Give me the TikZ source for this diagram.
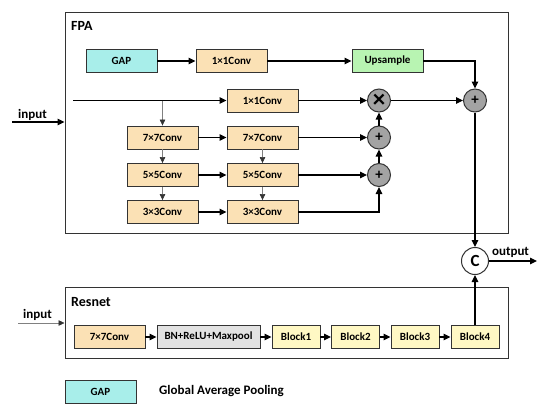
\documentclass[tikz,border=0pt]{standalone}
\usepackage{fontspec}
\setmainfont{Carlito}
\usetikzlibrary{arrows.meta,calc}
\definecolor{convc}{HTML}{FBE1B5}
\definecolor{gapc}{HTML}{A8EEEA}
\definecolor{upc}{HTML}{B8F4B2}
\definecolor{bnc}{HTML}{E2E2E2}
\definecolor{blkc}{HTML}{FFF8C4}
\definecolor{circc}{HTML}{A3A3A3}
\definecolor{edgec}{HTML}{333333}
\tikzset{
  every node/.style={font=\bfseries\fontsize{11}{12}\selectfont, inner sep=0pt},
  box/.style={draw=edgec, line width=0.9pt, rectangle, minimum width=71pt, minimum height=23pt},
  convbox/.style={box, fill=convc},
  blkbox/.style={box, fill=blkc, minimum width=48pt},
  opc/.style={draw=edgec, line width=1pt, circle, fill=circc, minimum size=23pt},
  frame/.style={draw=edgec, line width=1pt},
  arr/.style={line width=1.1pt, -{Triangle[length=7pt,width=6.5pt]}},
  garr/.style={gray, line width=0.6pt, -{Triangle[length=6pt,width=5.5pt,color=edgec]}},
  lbl/.style={font=\bfseries\fontsize{13}{15}\selectfont},
  ttl/.style={font=\bfseries\fontsize{14}{16}\selectfont, anchor=west}
}
\begin{document}
\begin{tikzpicture}[x=1pt,y=-1pt]
\useasboundingbox (0,0) rectangle (550,413);
% frames
\node[frame, minimum width=443pt, minimum height=221pt] (fpa) at (286.5,122.5) {};
\node[ttl] (fpat) at (71,26) {FPA};
\node[frame, minimum width=443pt, minimum height=71pt] (res) at (286.5,322.5) {};
\node[ttl] (rest) at (71,302) {Resnet};
% FPA top row
\node[box, fill=gapc] (gap) at (121.5,61) {GAP};
\node[convbox] (c1a) at (231.5,61) {1×1Conv};
\node[box, fill=upc] (up) at (387.5,61) {Upsample};
% second row
\node[convbox] (c1b) at (262.5,100.5) {1×1Conv};
\node[opc, font=\bfseries\fontsize{25}{25}\selectfont] (mul) at (379,100.5) {×};
\node[opc, font=\bfseries\fontsize{15}{15}\selectfont] (padd) at (475,100.5) {+};
% pyramid
\node[convbox] (l7) at (162.5,137.5) {7×7Conv};
\node[convbox] (r7) at (262.5,137.5) {7×7Conv};
\node[convbox] (l5) at (162.5,175) {5×5Conv};
\node[convbox] (r5) at (262.5,175) {5×5Conv};
\node[convbox] (l3) at (162.5,212) {3×3Conv};
\node[convbox] (r3) at (262.5,212) {3×3Conv};
\node[opc, font=\bfseries\fontsize{15}{15}\selectfont] (p1) at (379,137.5) {+};
\node[opc, font=\bfseries\fontsize{15}{15}\selectfont] (p2) at (379,175) {+};
% concat
\node[draw=edgec, line width=1pt, circle, fill=white, minimum size=27pt, font=\bfseries\fontsize{17}{17}\selectfont] (cat) at (475,261) {C};
\coordinate (outend) at (537,261);
\node[lbl, anchor=base] (outl) at (510.5,255) {output};
% inputs
\coordinate (in1) at (12,122);
\node[lbl, anchor=base] (in1l) at (32.5,118) {input};
\coordinate (mainstart) at (73,100.5);
\coordinate (br) at (162.5,100.5);
\coordinate (in2) at (18,323);
\node[lbl, anchor=base] (in2l) at (37.5,318) {input};
% resnet row
\node[convbox] (rc7) at (109.5,337) {7×7Conv};
\node[box, fill=bnc, minimum width=103pt] (bn) at (208.5,337) {BN+ReLU+Maxpool};
\node[blkbox] (b1) at (296,337) {Block1};
\node[blkbox] (b2) at (355.5,337) {Block2};
\node[blkbox] (b3) at (415,337) {Block3};
\node[blkbox] (b4) at (475,337) {Block4};
% legend
\node[box, fill=gapc] (lg) at (100.5,391.5) {GAP};
\node[anchor=west, font=\bfseries\fontsize{13}{15}\selectfont] (lgt) at (159,391.5) {Global Average Pooling};
% connectors FPA
\draw[arr] (gap) -- (c1a);
\draw[arr] (c1a) -- (up);
\draw[arr] (up.east) -| (padd.north);
\draw[arr] (in1) -- (in1 -| fpa.west);
\draw[arr] (mainstart) -- (c1b);
\draw[arr] (c1b) -- (mul);
\draw[arr] (mul) -- (padd);
\draw[garr] (br) -- (l7.north);
\draw[arr] (l7) -- (r7);
\draw[arr] (l5) -- (r5);
\draw[arr] (l3) -- (r3);
\draw[garr] (l7) -- (l5);
\draw[garr] (l5) -- (l3);
\draw[garr] (r7) -- (r5);
\draw[garr] (r5) -- (r3);
\draw[arr] (r7) -- (p1);
\draw[arr] (r5) -- (p2);
\draw[arr] (r3.east) -| (p2.south);
\draw[arr] (p2) -- (p1);
\draw[arr] (p1) -- (mul);
\draw[arr] (padd) -- (cat);
\draw[arr] (cat) -- (outend);
% connectors Resnet
\draw[garr] (in2) -- (in2 -| res.west);
\draw[arr] (rc7) -- (bn);
\draw[arr] (bn) -- (b1);
\draw[arr] (b1) -- (b2);
\draw[arr] (b2) -- (b3);
\draw[arr] (b3) -- (b4);
\draw[arr] (b4) -- (cat);
\end{tikzpicture}
\end{document}
